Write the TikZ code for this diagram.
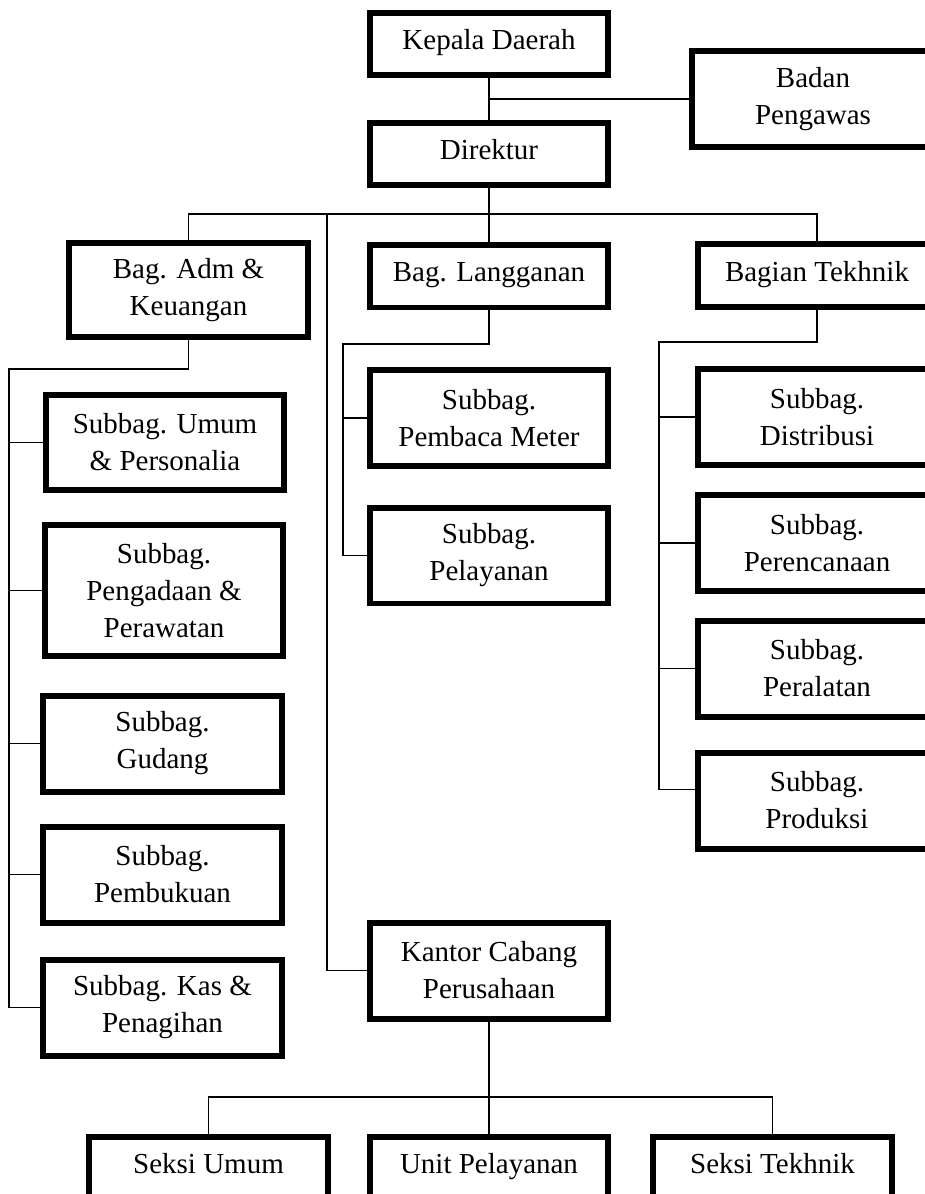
\documentclass[tikz,border=0pt]{standalone}
\usepackage{fontspec}
\setmainfont{Liberation Serif}
\begin{document}
\begin{tikzpicture}[x=0.02cm, y=-0.02cm]
  % Define styles
  \tikzstyle{office}=[draw=black, line width=0.12cm, fill=white, align=center, minimum width=4.78cm, minimum height=1.92cm, inner sep=2pt, font=\fontsize{16.5}{21}\selectfont]
  \tikzstyle{single}=[office, minimum height=1.26cm, text height=0.8em, text depth=0.14em]
  \tikzstyle{orgline}=[line width=0.75pt]

  \useasboundingbox (0,0) rectangle (925,1194);

  % Top
  \node[single] (kepala) at (489,44) {Kepala Daerah};
  \node[office, minimum width=4.84cm] (badan) at (813,99) {Badan\\Pengawas};
  \node[single] (direktur) at (489,154) {Direktur};

  % Bagian
  \node[office, minimum height=1.88cm] (adm) at (188.5,290) {Bag. Adm \&\\Keuangan};
  \node[single] (lang) at (489,276) {Bag. Langganan};
  \node[single] (tek) at (817,275.5) {Bagian Tekhnik};

  % Subbag under Adm & Keuangan
  \node[office] (umum) at (165,442.5) {Subbag. Umum\\\& Personalia};
  \node[office, minimum height=2.62cm] (pengadaan) at (164,590.5) {Subbag.\\Pengadaan \&\\Perawatan};
  \node[office] (gudang) at (162.5,743.5) {Subbag.\\Gudang};
  \node[office] (pembukuan) at (162.5,874.5) {Subbag.\\Pembukuan};
  \node[office] (kas) at (162.5,1007.5) {Subbag. Kas \&\\Penagihan};

  % Subbag under Langganan
  \node[office] (meter) at (489,418) {Subbag.\\Pembaca Meter};
  \node[office] (pelayanan) at (489,555.5) {Subbag.\\Pelayanan};

  % Subbag under Tekhnik
  \node[office] (distribusi) at (817,417) {Subbag.\\Distribusi};
  \node[office] (perencanaan) at (817,543) {Subbag.\\Perencanaan};
  \node[office] (peralatan) at (817,668.5) {Subbag.\\Peralatan};
  \node[office] (produksi) at (817,800.5) {Subbag.\\Produksi};

  % Kantor cabang
  \node[office] (kantor) at (489,970.5) {Kantor Cabang\\Perusahaan};
  \node[single] (seksiumum) at (208.5,1168) {Seksi Umum};
  \node[single] (unit) at (489,1168) {Unit Pelayanan};
  \node[single] (seksitek) at (772.5,1168) {Seksi Tekhnik};

  % Bus points
  \coordinate (dbus) at (489,214);
  \coordinate (kbus) at (327,214);
  \coordinate (abus) at (9,369);
  \coordinate (lbus) at (343,344);
  \coordinate (tbus) at (659,342);
  \coordinate (cbus) at (489,1097);

  % Lines
  \draw[orgline] (kepala) -- (direktur);
  \draw[orgline] (kepala.south |- badan.west) -- (badan.west);
  \draw[orgline] (direktur) -- (lang);
  \draw[orgline] (adm.north) |- (dbus) -| (tek.north);
  \draw[orgline] (kbus) |- (kantor.west);

  \draw[orgline] (adm.south) |- (abus) |- (kas.west);
  \draw[orgline] (abus |- umum.west) -- (umum.west);
  \draw[orgline] (abus |- pengadaan.west) -- (pengadaan.west);
  \draw[orgline] (abus |- gudang.west) -- (gudang.west);
  \draw[orgline] (abus |- pembukuan.west) -- (pembukuan.west);

  \draw[orgline] (lang.south) |- (lbus) |- (pelayanan.west);
  \draw[orgline] (lbus |- meter.west) -- (meter.west);

  \draw[orgline] (tek.south) |- (tbus) |- ([yshift=0.22cm]produksi.west);
  \draw[orgline] (tbus |- distribusi.west) -- (distribusi.west);
  \draw[orgline] (tbus |- perencanaan.west) -- (perencanaan.west);
  \draw[orgline] (tbus |- peralatan.west) -- (peralatan.west);

  \draw[orgline] (kantor) -- (unit);
  \draw[orgline] (seksiumum.north) |- (cbus) -| (seksitek.north);
\end{tikzpicture}
\end{document}
